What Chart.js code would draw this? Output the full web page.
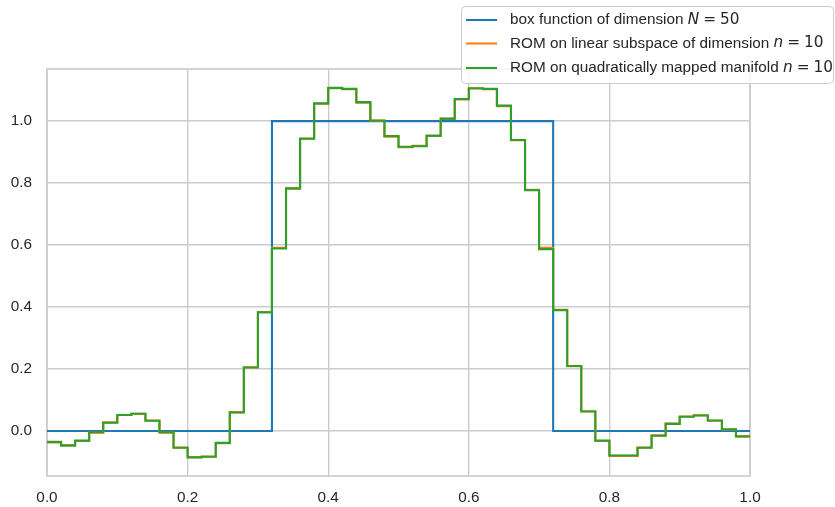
<!DOCTYPE html>
<html>
<head>
<meta charset="utf-8">
<script src="https://cdn.jsdelivr.net/npm/chart.js@4.4.1/dist/chart.umd.min.js"></script>
<style>
  html, body { margin: 0; padding: 0; background: #ffffff; }
  #wrap { width: 835px; height: 507px; position: relative; }
</style>
</head>
<body>
<div id="wrap"><canvas id="c" width="835" height="507"></canvas></div>
<script>
// x edges of the 50 cells
const xEdges = [0.00,0.02,0.04,0.06,0.08,0.10,0.12,0.14,0.16,0.18,
                0.20,0.22,0.24,0.26,0.28,0.30,0.32,0.34,0.36,0.38,
                0.40,0.42,0.44,0.46,0.48,0.50,0.52,0.54,0.56,0.58,
                0.60,0.62,0.64,0.66,0.68,0.70,0.72,0.74,0.76,0.78,
                0.80,0.82,0.84,0.86,0.88,0.90,0.92,0.94,0.96,0.98,1.00];

const boxValues = [0,0,0,0,0,0,0,0,0,0,
                   0,0,0,0,0,0,1,1,1,1,
                   1,1,1,1,1,1,1,1,1,1,
                   1,1,1,1,1,1,0,0,0,0,
                   0,0,0,0,0,0,0,0,0,0];

const linearRomValues = [-0.037,-0.045,-0.032,-0.005,0.028,0.052,0.056,0.034,-0.005,-0.053,
                         -0.084,-0.082,-0.039,0.061,0.206,0.384,0.591,0.782,0.944,1.056,
                         1.106,1.103,1.059,1.001,0.950,0.916,0.920,0.952,1.007,1.070,
                         1.105,1.103,1.048,0.938,0.778,0.591,0.391,0.209,0.064,-0.032,
                         -0.080,-0.080,-0.053,-0.014,0.024,0.047,0.051,0.033,0.005,-0.018];

const quadRomValues = [-0.035,-0.047,-0.031,-0.004,0.027,0.052,0.056,0.033,-0.004,-0.054,
                       -0.085,-0.083,-0.038,0.060,0.205,0.383,0.589,0.783,0.943,1.057,
                       1.107,1.104,1.061,1.002,0.952,0.917,0.919,0.953,1.008,1.071,
                       1.106,1.104,1.050,0.939,0.777,0.587,0.390,0.210,0.063,-0.031,
                       -0.079,-0.079,-0.054,-0.015,0.023,0.046,0.050,0.034,0.006,-0.017];

const xTicks = [0.0,0.2,0.4,0.6,0.8,1.0];
const yTicks = [0.0,0.2,0.4,0.6,0.8,1.0];

const seriesNames = ["box function of dimension ", "ROM on linear subspace of dimension ", "ROM on quadratically mapped manifold "];
const seriesMath = [["N", "50"], ["n", "10"], ["n", "10"]];
const seriesColors = ["#1f77b4", "#ff7f0e", "#2ca02c"];

function stepData(vals) {
  return xEdges.map((x, i) => ({ x: x, y: vals[Math.min(i, vals.length - 1)] }));
}

const FONT = '"Liberation Sans", Arial, sans-serif';
const TXT = '#262626';
const GRID = '#cccccc';

const frame = {
  id: 'frame',
  beforeDatasetsDraw(chart) {
    const a = chart.chartArea, ctx = chart.ctx;
    ctx.save();
    ctx.strokeStyle = GRID;
    ctx.lineWidth = 1.7;
    ctx.strokeRect(a.left, a.top, a.right - a.left, a.bottom - a.top);
    ctx.restore();
  },
  afterDraw(chart) {
    const ctx = chart.ctx;
    ctx.save();
    // legend box
    const bx = 461.5, by = 6.5, bw = 372, bh = 77, r = 4;
    ctx.beginPath();
    ctx.moveTo(bx + r, by);
    ctx.lineTo(bx + bw - r, by); ctx.quadraticCurveTo(bx + bw, by, bx + bw, by + r);
    ctx.lineTo(bx + bw, by + bh - r); ctx.quadraticCurveTo(bx + bw, by + bh, bx + bw - r, by + bh);
    ctx.lineTo(bx + r, by + bh); ctx.quadraticCurveTo(bx, by + bh, bx, by + bh - r);
    ctx.lineTo(bx, by + r); ctx.quadraticCurveTo(bx, by, bx + r, by);
    ctx.closePath();
    ctx.fillStyle = 'rgba(255,255,255,0.8)';
    ctx.fill();
    ctx.strokeStyle = GRID;
    ctx.lineWidth = 1;
    ctx.stroke();
    const rows = [20, 43.5, 68];
    ctx.textBaseline = 'middle';
    ctx.textAlign = 'left';
    for (let i = 0; i < 3; i++) {
      const y = rows[i];
      ctx.strokeStyle = seriesColors[i];
      ctx.lineWidth = 2.1;
      ctx.beginPath(); ctx.moveTo(466, y); ctx.lineTo(497, y); ctx.stroke();
      ctx.fillStyle = TXT;
      ctx.font = '15.3px ' + FONT;
      let x = 510;
      ctx.fillText(seriesNames[i], x, y);
      x += ctx.measureText(seriesNames[i]).width;
      ctx.font = 'italic 15.3px "DejaVu Sans", sans-serif';
      ctx.fillText(seriesMath[i][0], x, y);
      x += ctx.measureText(seriesMath[i][0]).width + 4;
      ctx.font = '15.3px "DejaVu Sans", sans-serif';
      ctx.fillText('=', x, y);
      x += ctx.measureText('=').width + 4;
      ctx.fillText(seriesMath[i][1], x, y);
    }
    ctx.restore();
  }
};

new Chart(document.getElementById('c'), {
  type: 'line',
  data: {
    datasets: [
      { label: seriesNames[0], data: stepData(boxValues), borderColor: seriesColors[0], order: 2 },
      { label: seriesNames[1], data: stepData(linearRomValues), borderColor: seriesColors[1], order: 1 },
      { label: seriesNames[2], data: stepData(quadRomValues), borderColor: seriesColors[2], order: 0 }
    ].map(d => Object.assign(d, { stepped: 'before', borderWidth: 2.1, pointRadius: 0, fill: false, borderJoinStyle: 'miter', borderCapStyle: 'butt' }))
  },
  options: {
    responsive: false,
    animation: false,
    events: [],
    layout: { padding: { left: 0, top: 69, right: 85, bottom: 0 } },
    plugins: { legend: { display: false }, tooltip: { enabled: false } },
    scales: {
      x: {
        type: 'linear', min: 0, max: 1,
        afterBuildTicks: s => { s.ticks = xTicks.map(v => ({ value: v })); },
        afterFit: s => { s.height = 31; },
        grid: { color: GRID, lineWidth: 1.4, drawTicks: false },
        border: { display: false },
        ticks: { color: TXT, font: { family: FONT, size: 15.3 }, padding: 13, maxRotation: 0,
                 callback: v => Number(v).toFixed(1) }
      },
      y: {
        type: 'linear', min: -0.145, max: 1.168,
        afterBuildTicks: s => { s.ticks = yTicks.map(v => ({ value: v })); },
        afterFit: s => { s.width = 47; },
        grid: { color: GRID, lineWidth: 1.4, drawTicks: false },
        border: { display: false },
        ticks: { color: TXT, font: { family: FONT, size: 15.3 }, padding: 15,
                 callback: v => Number(v).toFixed(1) }
      }
    }
  },
  plugins: [frame]
});
</script>
</body>
</html>
